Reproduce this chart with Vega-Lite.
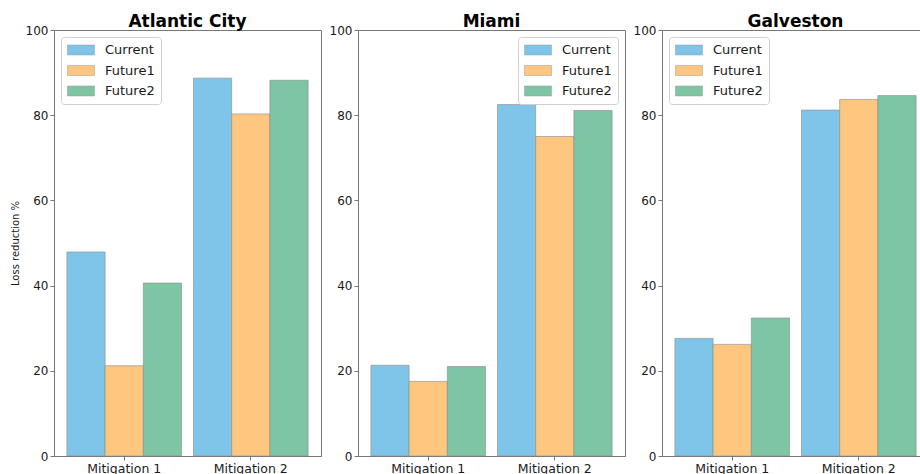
{
  "$schema": "https://vega.github.io/schema/vega-lite/v6.json",
  "padding": {"left": 9, "top": 12, "right": 0, "bottom": 0},
  "background": "white",
  "data": {"values": [
    {"city": "Atlantic City", "mitigation": "Mitigation 1", "scenario": "Current", "value": 47.9},
    {"city": "Atlantic City", "mitigation": "Mitigation 1", "scenario": "Future1", "value": 21.2},
    {"city": "Atlantic City", "mitigation": "Mitigation 1", "scenario": "Future2", "value": 40.6},
    {"city": "Atlantic City", "mitigation": "Mitigation 2", "scenario": "Current", "value": 88.7},
    {"city": "Atlantic City", "mitigation": "Mitigation 2", "scenario": "Future1", "value": 80.3},
    {"city": "Atlantic City", "mitigation": "Mitigation 2", "scenario": "Future2", "value": 88.2},
    {"city": "Miami", "mitigation": "Mitigation 1", "scenario": "Current", "value": 21.3},
    {"city": "Miami", "mitigation": "Mitigation 1", "scenario": "Future1", "value": 17.5},
    {"city": "Miami", "mitigation": "Mitigation 1", "scenario": "Future2", "value": 21.0},
    {"city": "Miami", "mitigation": "Mitigation 2", "scenario": "Current", "value": 82.5},
    {"city": "Miami", "mitigation": "Mitigation 2", "scenario": "Future1", "value": 75.0},
    {"city": "Miami", "mitigation": "Mitigation 2", "scenario": "Future2", "value": 81.1},
    {"city": "Galveston", "mitigation": "Mitigation 1", "scenario": "Current", "value": 27.6},
    {"city": "Galveston", "mitigation": "Mitigation 1", "scenario": "Future1", "value": 26.2},
    {"city": "Galveston", "mitigation": "Mitigation 1", "scenario": "Future2", "value": 32.4},
    {"city": "Galveston", "mitigation": "Mitigation 2", "scenario": "Current", "value": 81.2},
    {"city": "Galveston", "mitigation": "Mitigation 2", "scenario": "Future1", "value": 83.7},
    {"city": "Galveston", "mitigation": "Mitigation 2", "scenario": "Future2", "value": 84.6}
  ]},
  "spacing": 37,
  "bounds": "flush",
  "resolve": {"scale": {"color": "independent", "y": "independent", "x": "independent"}, "legend": {"color": "independent"}},
  "hconcat": [
    {
      "title": {"text": "Atlantic City"},
      "width": 267, "height": 426,
      "transform": [{"filter": "datum.city === 'Atlantic City'"}],
      "mark": {"type": "bar", "stroke": "#8a8a8a", "strokeWidth": 0.6},
      "encoding": {
        "x": {"field": "mitigation", "type": "nominal", "scale": {"paddingInner": 0.094, "paddingOuter": 0.102}, "axis": {"title": null, "labelAngle": 0, "labelFontSize": 12.5}},
        "xOffset": {"field": "scenario", "type": "nominal", "sort": ["Current", "Future1", "Future2"], "scale": {"paddingInner": 0, "paddingOuter": 0}},
        "y": {"field": "value", "type": "quantitative", "scale": {"domain": [0, 100]}, "axis": {"title": "Loss reduction %", "values": [0, 20, 40, 60, 80, 100]}},
        "color": {"field": "scenario", "type": "nominal", "scale": {"domain": ["Current", "Future1", "Future2"], "range": ["#7fc5ea", "#fec67f", "#7dc5a3"]}, "legend": {"orient": "top-left", "title": null}}
      }
    },
    {
      "title": {"text": "Miami"},
      "width": 267, "height": 426,
      "transform": [{"filter": "datum.city === 'Miami'"}],
      "mark": {"type": "bar", "stroke": "#8a8a8a", "strokeWidth": 0.6},
      "encoding": {
        "x": {"field": "mitigation", "type": "nominal", "scale": {"paddingInner": 0.094, "paddingOuter": 0.102}, "axis": {"title": null, "labelAngle": 0, "labelFontSize": 12.5}},
        "xOffset": {"field": "scenario", "type": "nominal", "sort": ["Current", "Future1", "Future2"], "scale": {"paddingInner": 0, "paddingOuter": 0}},
        "y": {"field": "value", "type": "quantitative", "scale": {"domain": [0, 100]}, "axis": {"title": null, "values": [0, 20, 40, 60, 80, 100]}},
        "color": {"field": "scenario", "type": "nominal", "scale": {"domain": ["Current", "Future1", "Future2"], "range": ["#7fc5ea", "#fec67f", "#7dc5a3"]}, "legend": {"orient": "top-right", "title": null}}
      }
    },
    {
      "title": {"text": "Galveston"},
      "width": 267, "height": 426,
      "transform": [{"filter": "datum.city === 'Galveston'"}],
      "mark": {"type": "bar", "stroke": "#8a8a8a", "strokeWidth": 0.6},
      "encoding": {
        "x": {"field": "mitigation", "type": "nominal", "scale": {"paddingInner": 0.094, "paddingOuter": 0.102}, "axis": {"title": null, "labelAngle": 0, "labelFontSize": 12.5}},
        "xOffset": {"field": "scenario", "type": "nominal", "sort": ["Current", "Future1", "Future2"], "scale": {"paddingInner": 0, "paddingOuter": 0}},
        "y": {"field": "value", "type": "quantitative", "scale": {"domain": [0, 100]}, "axis": {"title": null, "values": [0, 20, 40, 60, 80, 100]}},
        "color": {"field": "scenario", "type": "nominal", "scale": {"domain": ["Current", "Future1", "Future2"], "range": ["#7fc5ea", "#fec67f", "#7dc5a3"]}, "legend": {"orient": "top-left", "title": null}}
      }
    }
  ],
  "config": {
    "font": "DejaVu Sans",
    "view": {"stroke": "#777", "strokeWidth": 1},
    "title": {"font": "DejaVu Sans", "fontSize": 17, "fontWeight": "bold", "color": "#000", "offset": -7, "baseline": "alphabetic", "anchor": "middle"},
    "axis": {"grid": false, "domainColor": "#777", "tickColor": "#777", "tickSize": 4, "labelPadding": 2, "labelFont": "DejaVu Sans", "labelFontSize": 12, "labelColor": "#1a1a1a", "titleFont": "DejaVu Sans", "titleFontSize": 10, "titleFontWeight": "normal", "titleColor": "#1a1a1a", "titlePadding": 5},
    "legend": {"offset": 7, "padding": 6, "fillColor": "white", "strokeColor": "#d0d0d0", "cornerRadius": 3, "labelFont": "DejaVu Sans", "labelFontSize": 13, "labelColor": "#1a1a1a", "labelOffset": 24, "rowPadding": 6.5, "symbolType": "M-1,-0.77H3.15V0.77H-1Z", "symbolSize": 169, "symbolStrokeColor": "#999", "symbolStrokeWidth": 0.5, "symbolOpacity": 1}
  }
}
